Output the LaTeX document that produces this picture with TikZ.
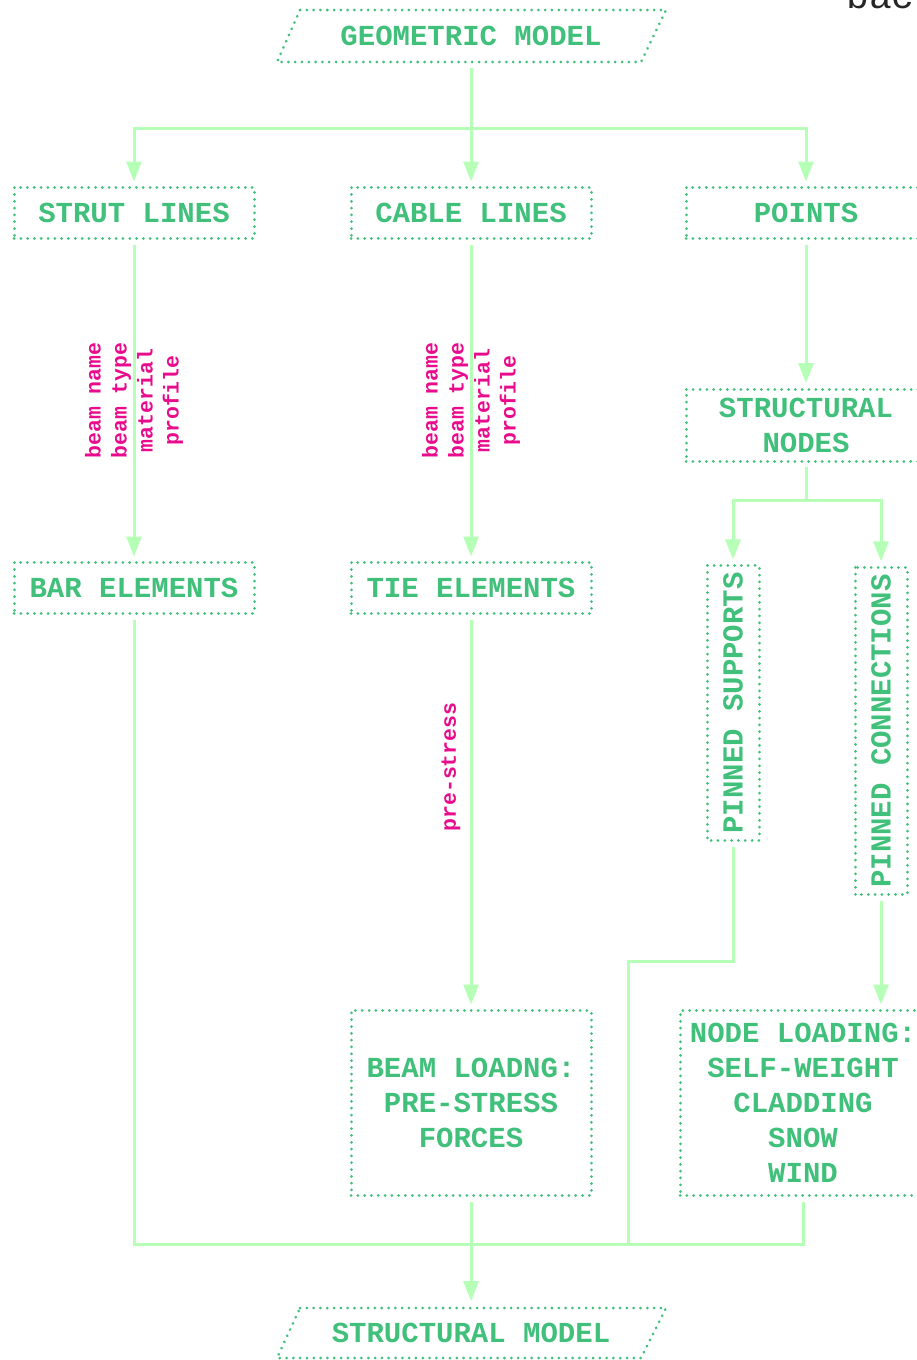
\documentclass[tikz,border=0pt]{standalone}
\usepackage{fontspec}
\usetikzlibrary{arrows.meta}
\newfontfamily\cour{Liberation Mono}
\definecolor{boxgreen}{RGB}{64,192,122}
\definecolor{linegreen}{RGB}{182,255,182}
\definecolor{lblmag}{RGB}{232,12,140}
\begin{document}
\begin{tikzpicture}[x=1pt,y=-1pt,
  dotted border/.style={draw=boxgreen, line width=3pt, dash pattern=on 0.01pt off 6.8pt, line cap=round},
  box/.style={dotted border, text=boxgreen, font=\cour\bfseries\fontsize{29}{35}\selectfont,
    minimum width=240pt, minimum height=51pt, inner sep=4pt, outer sep=6pt, align=center},
  vbox/.style={box, rotate=90, minimum width=0pt, minimum height=52pt, inner xsep=7pt},
  para/.style={text=boxgreen, font=\cour\bfseries\fontsize{29}{35}\selectfont,
    minimum width=300pt, minimum height=52pt, outer sep=6pt},
  wire/.style={draw=linegreen, line width=3pt},
  arr/.style={wire, -{Triangle[width=15pt,length=20pt]}},
  lbl/.style={rotate=90, align=center, text=lblmag, inner sep=0pt,
    font=\cour\bfseries\fontsize{21.5}{26}\selectfont}]
\useasboundingbox (0,0) rectangle (916,1360);

% top partial text
\node[anchor=base west, inner sep=0pt, text=black!85, font=\cour\fontsize{38}{40}\selectfont] (bac) at (846,8) {bac};

% parallelograms
\node[para] (gm) at (471,36) {GEOMETRIC MODEL};
\draw[dotted border] (300,10) -- (666,10) -- (641,62) -- (277,62) -- cycle;
\node[para] (sm) at (471,1333) {STRUCTURAL MODEL};
\draw[dotted border] (300,1308) -- (666,1308) -- (641,1358) -- (277,1358) -- cycle;

% boxes
\node[box] (strut) at (134,213) {STRUT LINES};
\node[box] (cable) at (471,213) {CABLE LINES};
\node[box] (points) at (806,213) {POINTS};
\node[box, minimum height=72pt] (structn) at (806,425) {STRUCTURAL\\NODES};
\node[box] (bar) at (134,588) {BAR ELEMENTS};
\node[box] (tie) at (471,588) {TIE ELEMENTS};
\node[vbox] (pinsup) at (733,703) {PINNED SUPPORTS};
\node[vbox] (pincon) at (881,731) {PINNED CONNECTIONS};
\node[box, minimum height=185pt] (beamload) at (471,1103) {BEAM LOADNG:\\PRE-STRESS\\FORCES};
\node[box, minimum height=185pt, minimum width=246pt] (nodeload) at (803,1103) {NODE LOADING:\\SELF-WEIGHT\\CLADDING\\SNOW\\WIND};

% junctions
\coordinate (j1) at (471,128);
\coordinate (j2) at (806,500);
\coordinate (j3) at (471,1244);
\coordinate (k1) at (628,961);
\coordinate (k2) at (628,1244);

% connectors
\draw[wire] (gm) -- (j1);
\draw[arr] (j1) -| (strut);
\draw[arr] (j1) -- (cable);
\draw[arr] (j1) -| (points);

\draw[arr] (strut) -- node[lbl]{beam name\\beam type\\material\\profile} (bar);
\draw[arr] (cable) -- node[lbl]{beam name\\beam type\\material\\profile} (tie);
\draw[arr] (tie) -- (beamload);
\node[lbl] (prestress) at (451,767) {pre-stress};

\draw[arr] (points) -- (structn);
\draw[wire] (structn) -- (j2);
\draw[arr] (j2) -| (pinsup);
\draw[arr] (j2) -| (pincon);
\draw[arr] (pincon) -- (pincon |- nodeload.north);

\draw[wire] (pinsup) |- (k1) -- (k2);
\draw[wire] (bar) |- (j3);
\draw[wire] (nodeload.south) |- (j3);
\draw[arr] (beamload) -- (sm);
\end{tikzpicture}
\end{document}
